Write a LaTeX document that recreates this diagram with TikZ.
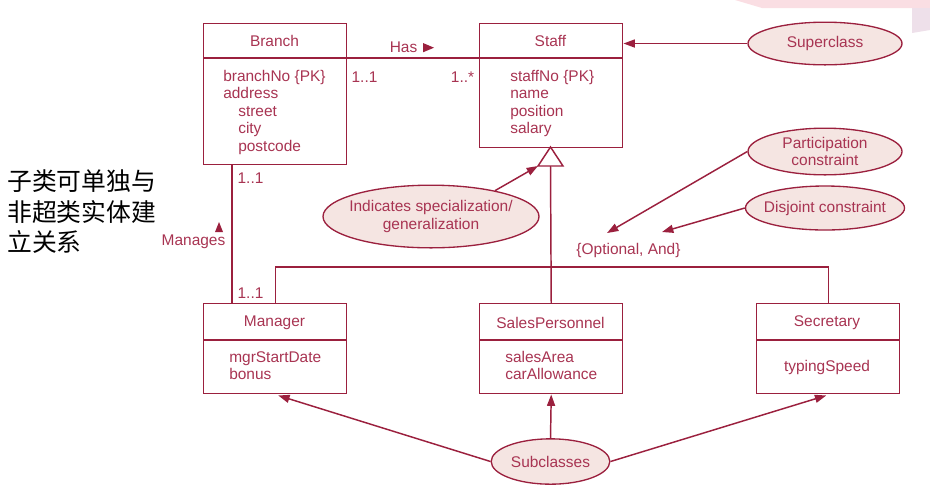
\documentclass[tikz,border=0pt]{standalone}
\usepackage{fontspec}
\setmainfont{Liberation Sans}
\newfontfamily\cjk{Noto Sans CJK SC}
\usetikzlibrary{shapes.geometric,arrows.meta,calc}
\definecolor{lnc}{RGB}{155,32,62}
\definecolor{txc}{RGB}{168,52,82}
\definecolor{efc}{RGB}{245,229,226}
\definecolor{deco1}{RGB}{250,222,227}
\definecolor{deco2}{RGB}{238,224,234}
\begin{document}
\begin{tikzpicture}[x=0.75pt,y=-0.75pt,
  every node/.style={font=\fontsize{11.6}{13.1}\selectfont, text=txc, inner sep=0pt},
  cbox/.style={draw=lnc, line width=1.1pt, anchor=north west, minimum width=107.25pt},
  note/.style={ellipse, draw=lnc, fill=efc, line width=1pt, align=center},
  lnk/.style={draw=lnc, line width=1.1pt},
  arr/.style={lnk, -{Triangle[length=8.5pt,width=6pt]}},
  attr/.style={anchor=north west, align=left},
  cjkline/.style={anchor=west, text=black, font=\cjk\fontsize{18.6}{22}\selectfont}
]
\useasboundingbox (0,0) rectangle (930,494);
% slide decoration
\fill[deco1] (735,0) -- (930,0) -- (930,8) -- (762,8) -- cycle;
\fill[deco2] (912,8) -- (930,8) -- (930,30) -- (912,33) -- cycle;

% class boxes
\node[cbox, minimum height=105.75pt] (branch) at (203,23) {};
\node[cbox, minimum height=93pt] (staff) at (479,23) {};
\node[cbox, minimum height=67.5pt] (manager) at (203,303) {};
\node[cbox, minimum height=67.5pt] (sales) at (479,303) {};
\node[cbox, minimum height=67.5pt] (secretary) at (756,303) {};

% dividers
\foreach \b in {branch,staff}
  \draw[lnk] ($(\b.north west)+(0,35)$) -- ($(\b.north east)+(0,35)$);
\foreach \b in {manager,sales,secretary}
  \draw[lnk] ($(\b.north west)+(0,37)$) -- ($(\b.north east)+(0,37)$);

% titles
\node (tbranch) at (274.5,41) {Branch};
\node (tstaff) at (550.5,41) {Staff};
\node (tmanager) at (274.5,323) {Manager};
\node (tsales) at (550.5,323) {SalesPersonnel};
\node (tsecretary) at (827,323) {Secretary};

% attributes
\node[attr] (abranch) at (223,70) {branchNo \{PK\}\\address\\\hspace{11.25pt}street\\\hspace{11.25pt}city\\\hspace{11.25pt}postcode};
\node[attr] (astaff) at (510,70) {staffNo \{PK\}\\name\\position\\salary};
\node[attr] (amanager) at (229,351) {mgrStartDate\\bonus};
\node[attr] (asales) at (505,351) {salesArea\\carAllowance};
\node (asecretary) at (827,367) {typingSpeed};

% Has association
\draw[lnk] ($(branch.north east)+(0,35)$) -- ($(staff.north west)+(0,35)$);
\node (has) at (403.5,47) {Has};
\fill[lnc] (423,43) -- (434,47.7) -- (423,52.3) -- cycle;
\node (m1) at (364.5,77.5) {1..1};
\node (m2) at (462.5,77.5) {1..*};

% Manages association
\draw[lnk] ($(branch.south west)+(29,0)$) -- ($(manager.north west)+(29,0)$);
\node (m3) at (250.5,178) {1..1};
\node (m4) at (250.5,293) {1..1};
\node (manages) at (193.5,242) {Manages};
\fill[lnc] (215,232) -- (219,222) -- (223,232) -- cycle;

% generalization
\coordinate (apex) at (550.5,147);
\coordinate (triL) at (538,166);
\coordinate (triR) at (563,166);
\coordinate (triB) at (550.5,166);
\coordinate (bar) at (0,267);
\draw[lnk, fill=white, line join=miter] (apex) -- (triR) -- (triL) -- cycle;
\draw[lnk] (triB) -- (sales.north);
\draw[lnk] (manager.north) -- (manager.north |- bar) -- (secretary.north |- bar) -- (secretary.north);
\node (constr) at (628.5,250) {\{Optional, And\}};

% notes
\node[note, minimum width=115.5pt, minimum height=32pt] (super) at (825,43.5) {Superclass};
\node[note, minimum width=115.5pt, minimum height=35pt] (part) at (825,151.5) {Participation\\constraint};
\node[note, minimum width=115.5pt, minimum height=33pt, inner xsep=-3.6pt] (disj) at (825,208) {Disjoint constraint};
\node[note, minimum width=162pt, minimum height=47pt, inner xsep=-5.2pt] (ind) at (431,216.5) {Indicates specialization/\\generalization};
\node[note, minimum width=89pt, minimum height=34pt] (sub) at (550.5,461.5) {Subclasses};

\coordinate (ptip) at (607,233);
\coordinate (dtip) at (662,232);
\draw[arr] (super.west) -- (super.west -| staff.east);
\draw[arr] (part.west) -- (ptip);
\draw[arr] (disj.west) -- (dtip);
\draw[arr] (ind.22) -- (triL);
\draw[arr] (sub.west) -- ($(manager.south)+(3,1)$);
\draw[arr] (sub.north) -- (sales.south);
\draw[arr] (sub.east) -- ($(secretary.south)+(-2,1)$);

% Chinese note
\node[cjkline] (cn1) at (7,181) {子类可单独与};
\node[cjkline] (cn2) at (7,211.5) {非超类实体建};
\node[cjkline] (cn3) at (7,242) {立关系};
\end{tikzpicture}
\end{document}
